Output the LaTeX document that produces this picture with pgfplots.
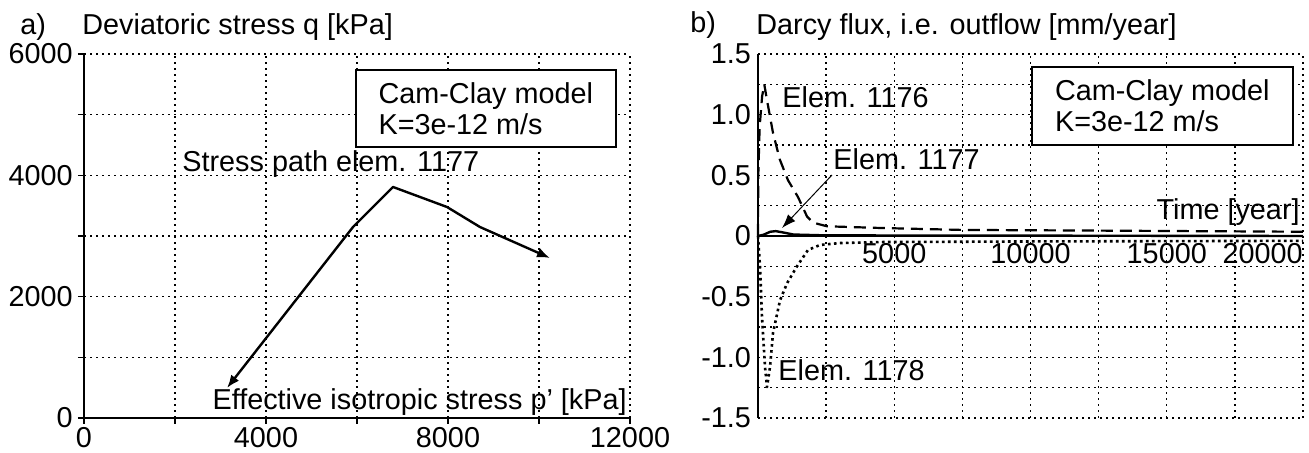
\documentclass[border=0pt]{standalone}
\usepackage{fontspec}
\setmainfont{Liberation Sans}
\usepackage{pgfplots}
\pgfplotsset{compat=1.18}
\usetikzlibrary{arrows.meta}
\newcommand{\fs}{\fontsize{14.4}{15.5}\selectfont}
\begin{document}
\begin{tikzpicture}[font=\fs]
\pgfplotsset{
  mygrid/.style={line width=0.7pt, black, dash pattern=on 1pt off 2pt},
  every axis/.append style={
    scale only axis, height=182pt, anchor=south west,
    /pgf/number format/assume math mode=true,
    tick label style={font=\fs},
    scaled ticks=false,
    grid=both,
    major grid style={mygrid}, minor grid style={mygrid},
    axis line style={line width=0.9pt, -},
    clip=false,
  }
}
% ---------------- a) ----------------
\begin{axis}[at={(42pt,17.5pt)}, width=273pt,
  xmin=0, xmax=12000, ymin=0, ymax=6000,
  axis x line*=bottom, axis y line*=left,
  xtick={0,4000,8000,12000}, xticklabels={0,4000,8000,12000},
  minor xtick={2000,6000,10000},
  ytick={0,2000,4000,6000}, yticklabels={0,2000,4000,6000},
  minor ytick={1000,3000,5000},
  tick align=outside, major tick length=3pt, minor tick length=3pt,
  tick style={line width=0.7pt, black},
  xticklabel style={inner sep=1.5pt}, yticklabel style={inner sep=2.5pt},
]
\addplot[no marks, line width=1.2pt, line join=round, {Latex[length=6.5pt,width=5pt]}-{Latex[length=6.5pt,width=5pt]}]
  coordinates {(3143,494) (4747,2031) (5912,3148) (6791,3808) (7978,3478) (8703,3148) (10242,2637)};
\node[draw, line width=0.8pt, fill=white, anchor=north west, inner sep=0pt,
  align=left, minimum width=130pt, minimum height=38.5pt, font=\fs] at (axis cs:5956,5752) {Cam-Clay model\\K=3e-12 m/s};
\node[anchor=base west, inner sep=0pt] at (axis cs:2154,4055) {Stress path elem. 1177};
\node[anchor=base east, inner sep=0pt] at (axis cs:11934,132) {Effective isotropic stress p’ [kPa]};
\end{axis}
% ---------------- b) ----------------
\begin{axis}[at={(379pt,17.5pt)}, width=272.5pt,
  xmin=0, xmax=20000, ymin=-1.5, ymax=1.5,
  axis x line*=middle, axis y line*=left,
  hide obscured x ticks=false, hide obscured y ticks=false,
  xtick={5000,10000,15000}, xticklabels={5000,10000,15000},
  extra x ticks={20000}, extra x tick labels={20000},
  extra x tick style={xticklabel style={anchor=north east, inner xsep=0pt}},
  minor xtick={0,2500,...,20000},
  ytick={-1.5,-1,-0.5,0,0.5,1,1.5}, yticklabels={-1.5,-1.0,-0.5,0,0.5,1.0,1.5},
  minor ytick={-1.25,-0.75,-0.25,0.25,0.75,1.25},
  major tick length=0pt, minor tick length=0pt,
]
\addplot[no marks, line width=1.1pt, line join=round, dash pattern=on 6pt off 3.5pt] coordinates {
 (0,0) (10,0.5) (60,0.9) (150,1.15) (230,1.25) (330,1.12) (550,0.85) (800,0.63) (1100,0.46)
 (1470,0.32) (1800,0.16) (2020,0.11) (2530,0.08) (4500,0.066) (7500,0.05) (12000,0.045) (20000,0.035)};
\addplot[no marks, line width=1.2pt, line join=round] coordinates {
 (0,0) (200,0.01) (450,0.035) (650,0.04) (900,0.03) (1300,0.012) (2500,0.005) (20000,0.0)};
\addplot[no marks, line width=1.3pt, line join=round, dash pattern=on 1.3pt off 1.7pt] coordinates {
 (0,0) (73,-0.25) (147,-0.67) (257,-1.08) (330,-1.245) (440,-1.08) (550,-0.8) (808,-0.53)
 (1065,-0.39) (1430,-0.25) (1835,-0.115) (2275,-0.074) (3010,-0.058) (4480,-0.05) (10000,-0.045) (20000,-0.04)};
\node[draw, line width=0.8pt, fill=white, anchor=north west, inner sep=0pt,
  align=left, minimum width=130.5pt, minimum height=39pt, font=\fs] at (axis cs:10018,1.40) {Cam-Clay model\\K=3e-12 m/s};
\node[anchor=base west, inner sep=0pt] at (axis cs:881,1.063) {Elem. 1176};
\node[anchor=base west, inner sep=0pt] at (axis cs:2752,0.544) {Elem. 1177};
\node[anchor=base west, inner sep=0pt] at (axis cs:734,-1.187) {Elem. 1178};
\node[anchor=base east, inner sep=0pt] at (axis cs:19890,0.132) {Time [year]};
\draw[line width=0.5pt, -{Latex[length=7pt,width=5pt]}] (axis cs:2716,0.503) -- (axis cs:881,0.066);
\end{axis}
% titles
\node[anchor=base west, inner sep=0pt, font=\fs] at (10pt,209pt) {a)};
\node[anchor=base west, inner sep=0pt, font=\fs] at (41pt,209pt) {Deviatoric stress q [kPa]};
\node[anchor=base west, inner sep=0pt, font=\fs] at (345pt,210pt) {b)};
\node[anchor=base west, inner sep=0pt, font=\fs] at (378pt,209pt) {Darcy flux, i.e. outflow [mm/year]};
\pgfresetboundingbox
\path (0,0) rectangle (654.5pt,226.5pt);
\end{tikzpicture}
\end{document}
